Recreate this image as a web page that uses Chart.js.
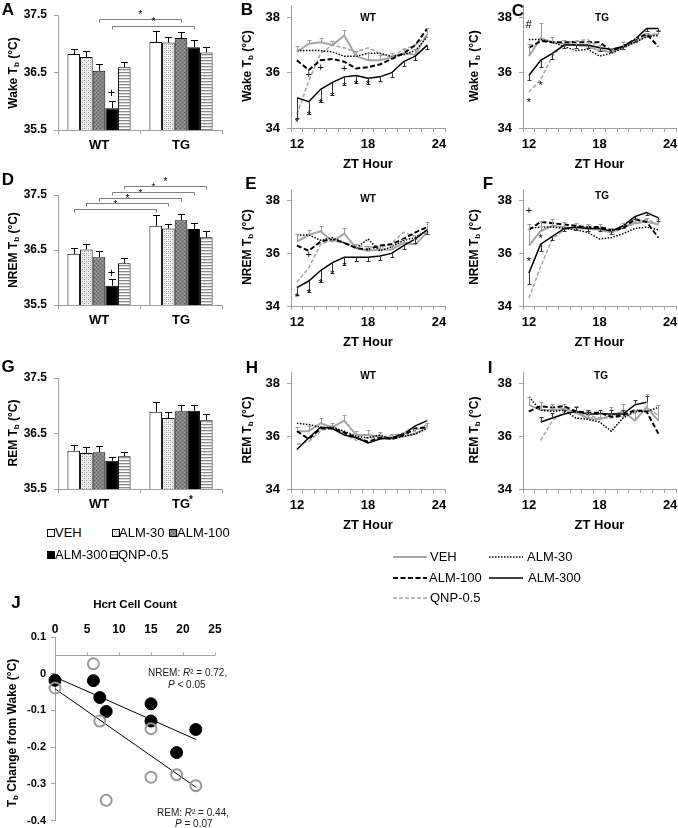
<!DOCTYPE html>
<html>
<head>
<meta charset="utf-8">
<script src="https://cdn.jsdelivr.net/npm/chart.js@4.4.0/dist/chart.umd.min.js"></script>
<style>
body { margin: 0; background: #fff; width: 678px; height: 828px; position: relative; overflow: hidden;
       font-family: "Liberation Sans", Arial, sans-serif; color: #000; }
canvas { position: absolute; }
.letter { position: absolute; font-weight: bold; font-size: 17px; line-height: 17px; transform: translate(-50%, -50%); }
.yt { position: absolute; font-weight: bold; font-size: 12px; white-space: nowrap; line-height: 14px;
      transform: translate(-50%, -50%) rotate(-90deg); }
.yt sub { font-size: 8px; vertical-align: -2px; }
.ptitle { position: absolute; font-weight: bold; font-size: 10px; transform: translate(-50%, -50%); }
.leg { position: absolute; font-size: 13px; line-height: 14px; white-space: nowrap; }
.note { position: absolute; font-size: 10px; line-height: 12px; white-space: nowrap; color: #222; }
</style>
</head>
<body>
<script>
// ---- data ----
const treatments = ['VEH', 'ALM-30', 'ALM-100', 'ALM-300', 'QNP-0.5'];
const genotypes = ['WT', 'TG'];
const barYTicks = [35.5, 36.5, 37.5];

// bar panels: one row per treatment, [WT, TG]
const wakeMeans = [[36.82, 37.03], [36.77, 37.02], [36.53, 37.10], [35.88, 36.94], [36.59, 36.85]];
const wakeErr   = [[0.09, 0.20], [0.10, 0.09], [0.11, 0.11], [0.12, 0.13], [0.10, 0.10]];
const nremMeans = [[36.43, 36.94], [36.51, 36.89], [36.37, 37.04], [35.85, 36.88], [36.26, 36.73]];
const nremErr   = [[0.10, 0.20], [0.10, 0.09], [0.11, 0.11], [0.12, 0.12], [0.09, 0.11]];
const remMeans  = [[36.19, 36.89], [36.15, 36.78], [36.16, 36.90], [36.01, 36.91], [36.09, 36.74]];
const remErr    = [[0.11, 0.17], [0.10, 0.11], [0.11, 0.11], [0.07, 0.10], [0.07, 0.12]];
// [treatment index, bracket height]
const wakeBrackets = [[2, 37.43], [3, 37.31]];
const nremBrackets = [[0, 37.24], [1, 37.35], [2, 37.45], [3, 37.56], [4, 37.67]];

// hourly panels
const ztHours = [12, 13, 14, 15, 16, 17, 18, 19, 20, 21, 22, 23];
const xTickLabels = [12, 18, 24];
const lineYTicks = [34, 36, 38];

const wakeWT = [
  [36.75, 37.05, 37.10, 37.00, 37.35, 36.60, 36.45, 36.45, 36.55, 36.70, 36.65, 37.40],
  [36.80, 36.80, 36.80, 36.75, 36.60, 36.60, 36.70, 36.70, 36.60, 36.65, 36.80, 37.30],
  [36.45, 36.10, 36.45, 36.50, 36.40, 36.15, 36.20, 36.30, 36.50, 36.70, 37.00, 37.60],
  [35.10, 34.95, 35.40, 35.65, 35.85, 35.90, 35.80, 35.85, 36.00, 36.40, 36.60, 37.00],
  [34.50, 35.70, 36.70, 37.00, 36.90, 36.75, 36.90, 36.70, 36.55, 36.85, 37.00, 37.35]
];
const wakeTG = [
  [36.60, 37.25, 37.10, 37.05, 37.00, 36.95, 36.80, 36.75, 36.90, 37.10, 37.35, 37.40],
  [37.20, 37.20, 37.10, 36.95, 36.80, 36.85, 36.60, 36.70, 36.90, 37.10, 37.30, 37.35],
  [36.90, 37.15, 37.10, 37.10, 37.10, 37.10, 37.10, 36.80, 36.95, 37.20, 37.40, 36.95],
  [35.90, 36.45, 36.70, 37.00, 37.00, 37.00, 36.90, 36.85, 36.95, 37.20, 37.60, 37.60],
  [35.30, 35.75, 36.60, 37.05, 37.15, 37.20, 36.90, 36.70, 37.00, 37.10, 37.30, 37.40]
];
const nremWT = [
  [36.45, 36.70, 36.85, 36.45, 36.75, 36.20, 36.10, 36.15, 36.15, 36.40, 36.35, 36.80],
  [36.70, 36.70, 36.50, 36.60, 36.40, 36.20, 36.55, 36.10, 36.25, 36.50, 36.60, 36.90],
  [36.30, 36.10, 36.45, 36.55, 36.40, 36.20, 36.15, 36.30, 36.35, 36.55, 36.80, 37.00],
  [34.70, 34.95, 35.35, 35.65, 35.85, 35.85, 35.85, 35.90, 36.00, 36.30, 36.55, 36.90],
  [34.90, 35.45, 36.35, 36.50, 36.40, 36.30, 36.25, 36.20, 36.40, 36.80, 36.65, 36.80]
];
const nremTG = [
  [36.30, 36.85, 37.05, 37.00, 36.95, 36.95, 36.90, 36.80, 37.00, 37.15, 37.20, 37.10],
  [36.95, 37.00, 37.00, 36.95, 36.90, 36.80, 36.55, 36.60, 36.75, 36.95, 37.00, 36.90],
  [36.90, 37.20, 37.15, 37.10, 37.05, 37.00, 37.00, 36.90, 36.95, 37.30, 37.20, 36.60],
  [35.25, 36.35, 36.65, 36.95, 37.00, 36.95, 36.95, 36.85, 37.05, 37.40, 37.55, 37.35],
  [34.30, 35.50, 36.55, 36.90, 37.00, 37.00, 36.95, 36.80, 36.95, 37.20, 37.30, 37.10]
];
const remWT = [
  [36.20, 36.20, 36.50, 36.35, 36.60, 36.05, 36.05, 36.00, 35.95, 36.00, 36.10, 36.35],
  [36.50, 36.45, 36.35, 36.35, 36.20, 36.00, 35.95, 36.05, 35.90, 36.00, 36.10, 36.30],
  [36.20, 35.90, 36.30, 36.30, 36.15, 35.95, 35.80, 35.95, 35.90, 36.05, 36.30, 36.35],
  [35.50, 35.95, 36.35, 36.30, 36.05, 35.95, 35.75, 35.90, 35.95, 36.10, 36.40, 36.60],
  [35.70, 35.80, 36.20, 36.40, 36.10, 35.85, 35.95, 35.95, 36.05, 36.10, 36.20, 36.45]
];
const remTG = [
  [37.20, 37.00, 37.00, 37.05, 36.90, 36.70, 36.65, 36.80, 36.95, 36.60, 37.10, 36.60],
  [37.50, 37.00, 36.95, 37.00, 36.70, 36.65, 36.55, 36.20, 36.70, 36.95, 36.95, 37.10],
  [36.95, 37.15, 37.10, 37.15, 36.95, 36.90, 36.90, 36.75, 36.80, 37.00, 36.95, 36.10],
  [null, 36.55, 36.70, 36.85, 36.95, 36.85, 36.85, 36.85, 36.85, 37.20, 37.30, null],
  [null, 35.85, 36.60, 36.95, 36.90, 36.80, 36.70, 36.70, 36.75, 36.90, 37.10, 36.80]
];

// hourly error bars: [treatment index, direction, sizes]
const wakeWTErr = [
  [0, 1, [0.20, 0.15, 0.15, 0.15, 0.20, 0.20, 0.25, 0.20, 0.15, 0.15, 0.20, 0.20]],
  [3, -1, [0.75, 0.45, 0.45, 0.45, 0.30, 0.28, 0.20, 0.15, 0.15, 0.15, 0.15, 0.15]]
];
const wakeTGErr = [
  [0, 1, [0.45, 0.55, 0.20, 0.15, 0.15, 0.15, 0.20, 0.15, 0.20, 0.15, 0.10, 0.15]],
  [3, -1, [0.15, 0.25, 0.20, 0.10, 0.10, 0.10, 0.10, 0.10, 0.10, 0.10, 0.10, 0.10]]
];
const nremWTErr = [
  [0, 1, [0.30, 0.20, 0.20, 0.15, 0.20, 0.15, 0.20, 0.15, 0.15, 0.15, 0.20, 0.40]],
  [3, -1, [0.30, 0.40, 0.45, 0.40, 0.30, 0.15, 0.15, 0.15, 0.15, 0.15, 0.15, 0.15]]
];
const nremTGErr = [
  [0, 1, [0.80, 0.40, 0.25, 0.20, 0.20, 0.15, 0.20, 0.15, 0.15, 0.20, 0.15, 0.20]],
  [3, -1, [0.40, 0.25, 0.15, 0.10, 0.10, 0.10, 0.10, 0.10, 0.10, 0.10, 0.10, 0.10]]
];
const remWTErr = [
  [0, 1, [0.15, 0.20, 0.20, 0.15, 0.20, 0.15, 0.20, 0.15, 0.15, 0.15, 0.20, 0.15]]
];
const remTGErr = [
  [0, 1, [0.30, 0.30, 0.25, 0.20, 0.25, 0.20, 0.20, 0.30, 0.30, 0.40, 0.50, 0.60]],
  [3, 1, [null, 0.20, 0.20, 0.15, 0.15, 0.15, 0.15, 0.15, 0.15, 0.20, 0.25, null]]
];

// [symbol, hour, temperature]
const wakeWTMarks = [['*', 12, 34.18], ['*', 13, 34.44], ['*', 14, 34.88], ['*', 15, 35.12], ['*', 16, 35.48],
  ['*', 17, 35.56], ['*', 18, 35.56], ['+', 13, 35.92], ['+', 14, 36.16], ['+', 16, 36.13]];
const wakeTGMarks = [['#', 12, 37.72], ['*', 12, 34.92], ['*', 13, 35.53]];
const nremWTMarks = [['*', 12, 34.3], ['*', 13, 34.45], ['*', 14, 34.83], ['*', 15, 35.17], ['*', 16, 35.49], ['+', 13, 35.94]];
const nremTGMarks = [['+', 12, 37.62], ['*', 12, 35.68], ['*', 13, 36.55]];

// panel J
const hcrtCells  = [0, 6, 7, 8, 15, 15, 19, 22];
const nremChange = [-0.018, -0.019, -0.065, -0.103, -0.082, -0.129, -0.215, -0.152];
const remChange  = [-0.039, 0.027, -0.129, -0.345, -0.150, -0.282, -0.275, -0.305];
const fitCells   = [0, 22];
const nremFit    = [-0.009, -0.179];
const remFit     = [-0.041, -0.309];
const changeTicks = [-0.4, -0.3, -0.2, -0.1, 0, 0.1];

// ---- setup ----
Chart.defaults.font.family = '"Liberation Sans", Arial, sans-serif';
Chart.defaults.color = '#000';
Chart.defaults.animation = false;
Chart.defaults.plugins.legend.display = false;
Chart.defaults.plugins.tooltip.enabled = false;

const axisGray = '#a0a0a0';
const lineStyles = [
  { color: '#a6a6a6', width: 2, dash: [], order: 3 },
  { color: '#000', width: 1.5, dash: [1.5, 1.5], order: 2 },
  { color: '#000', width: 2, dash: [5, 2.5], order: 1 },
  { color: '#000', width: 1.5, dash: [], order: 0 },
  { color: '#a6a6a6', width: 1.5, dash: [4, 2], order: 4 }
];

function makeFill(kind) {
  if (kind === 'white') return '#ffffff';
  if (kind === 'black') return '#000000';
  const p = document.createElement('canvas');
  const g = p.getContext('2d');
  if (kind === 'lightdots') {
    p.width = p.height = 4;
    g.fillStyle = '#f0f0f0'; g.fillRect(0, 0, 4, 4);
    g.fillStyle = '#9a9a9a'; g.fillRect(0, 0, 1, 1); g.fillRect(2, 2, 1, 1);
    g.fillStyle = '#c8c8c8'; g.fillRect(2, 0, 1, 1); g.fillRect(0, 2, 1, 1);
  } else if (kind === 'darkdots') {
    p.width = p.height = 4;
    g.fillStyle = '#858585'; g.fillRect(0, 0, 4, 4);
    g.fillStyle = '#555'; g.fillRect(0, 0, 1, 1); g.fillRect(2, 2, 1, 1);
    g.fillStyle = '#a0a0a0'; g.fillRect(2, 0, 1, 1); g.fillRect(0, 2, 1, 1);
  } else {
    p.width = 3; p.height = 3;
    g.fillStyle = '#ffffff'; g.fillRect(0, 0, 3, 3);
    g.fillStyle = '#8a8a8a'; g.fillRect(0, 0, 3, 1);
    g.fillStyle = '#dcdcdc'; g.fillRect(0, 1, 3, 1);
  }
  return g.createPattern(p, 'repeat');
}
const barFills = ['white', 'lightdots', 'darkdots', 'black', 'stripes'].map(makeFill);

function makeCanvas(left, top, w, h) {
  const c = document.createElement('canvas');
  c.width = w; c.height = h;
  c.style.left = left + 'px'; c.style.top = top + 'px';
  c.style.width = w + 'px'; c.style.height = h + 'px';
  document.body.appendChild(c);
  return c;
}

function addDiv(cls, html, left, top) {
  const d = document.createElement('div');
  d.className = cls;
  d.innerHTML = html;
  d.style.left = left + 'px';
  d.style.top = top + 'px';
  document.body.appendChild(d);
  return d;
}

// error bars and stars / plus / hash on the hourly panels
const marksPlugin = {
  id: 'marks',
  afterDatasetsDraw(chart, args, opts) {
    const ctx = chart.ctx, xs = chart.scales.x, ys = chart.scales.y;
    ctx.save();
    ctx.lineWidth = 1;
    (opts.errors || []).forEach(e => {
      const ds = chart.data.datasets[e[0]];
      ctx.strokeStyle = ds.borderColor === '#000' ? '#333' : '#9a9a9a';
      ds.data.forEach((pt, k) => {
        const size = e[2][k];
        if (pt.y === null || size === null) return;
        const x = Math.round(xs.getPixelForValue(pt.x)) + 0.5;
        const y0 = ys.getPixelForValue(pt.y);
        const y1 = Math.round(ys.getPixelForValue(pt.y + e[1] * size)) + 0.5;
        ctx.beginPath();
        ctx.moveTo(x, y0); ctx.lineTo(x, y1);
        ctx.moveTo(x - 2, y1); ctx.lineTo(x + 2, y1);
        ctx.stroke();
      });
    });
    ctx.fillStyle = '#000';
    ctx.font = '11px "Liberation Sans", Arial, sans-serif';
    ctx.textAlign = 'center';
    ctx.textBaseline = 'middle';
    (opts.items || []).forEach(m => ctx.fillText(m[0], xs.getPixelForValue(m[1]), ys.getPixelForValue(m[2])));
    ctx.restore();
  }
};

// error bars, brackets and plus signs on the bar panels
const barMarks = {
  id: 'barMarks',
  afterDatasetsDraw(chart, args, opts) {
    const ctx = chart.ctx, ys = chart.scales.y;
    ctx.save();
    ctx.lineWidth = 1;
    ctx.strokeStyle = '#000';
    opts.errors.forEach((errs, i) => {
      const meta = chart.getDatasetMeta(i);
      meta.data.forEach((bar, j) => {
        const v = chart.data.datasets[i].data[j];
        const x = Math.round(bar.x) + 0.5;
        const yTop = Math.round(ys.getPixelForValue(v + errs[j])) + 0.5;
        ctx.beginPath();
        ctx.moveTo(x, bar.y);
        ctx.lineTo(x, yTop);
        ctx.moveTo(x - 3.5, yTop);
        ctx.lineTo(x + 3.5, yTop);
        ctx.stroke();
      });
    });
    ctx.strokeStyle = '#7f7f7f';
    ctx.fillStyle = '#000';
    ctx.textAlign = 'center';
    ctx.textBaseline = 'middle';
    ctx.font = '10px "Liberation Sans", Arial, sans-serif';
    (opts.brackets || []).forEach(b => {
      const meta = chart.getDatasetMeta(b[0]);
      const x1 = Math.round(meta.data[0].x) + 0.5, x2 = Math.round(meta.data[1].x) + 0.5;
      const y = Math.round(ys.getPixelForValue(b[1])) + 0.5;
      ctx.beginPath();
      ctx.moveTo(x1, y + 3); ctx.lineTo(x1, y); ctx.lineTo(x2, y); ctx.lineTo(x2, y + 3);
      ctx.stroke();
      ctx.fillText('*', (x1 + x2) / 2, y - 4);
    });
    ctx.font = '13px "Liberation Sans", Arial, sans-serif';
    (opts.plus || []).forEach(p => {
      const bar = chart.getDatasetMeta(p[0]).data[p[1]];
      ctx.fillText('+', bar.x, ys.getPixelForValue(p[2]));
    });
    ctx.restore();
  }
};

function barPanel(top, h, padTop, means, errs, brackets, plus) {
  const canvas = makeCanvas(0, top, 225, h);
  return new Chart(canvas, {
    type: 'bar',
    data: {
      labels: genotypes,
      datasets: means.map((vals, i) => ({
        label: treatments[i],
        data: vals,
        backgroundColor: barFills[i],
        borderColor: '#000',
        borderWidth: 1,
        barPercentage: 1,
        categoryPercentage: 0.77
      }))
    },
    options: {
      responsive: false,
      devicePixelRatio: 1,
      layout: { padding: { top: padTop, right: 3, left: 0, bottom: 0 } },
      scales: {
        x: {
          afterFit: s => { s.height = 30; s.paddingLeft = 0; s.paddingRight = 0; },
          ticks: { padding: 4, font: { size: 13, weight: 'bold' } },
          grid: { drawOnChartArea: false, tickLength: 4, color: axisGray },
          border: { color: axisGray }
        },
        y: {
          min: 35.5, max: 37.5,
          afterBuildTicks: s => { s.ticks = barYTicks.map(v => ({ value: v })); },
          afterFit: s => { s.width = 58; s.paddingTop = 0; s.paddingBottom = 0; },
          ticks: { padding: 7, font: { size: 12, weight: 'bold' }, callback: v => v.toFixed(1) },
          grid: { drawOnChartArea: false, tickLength: 4, color: axisGray },
          border: { color: axisGray }
        }
      },
      plugins: { barMarks: { errors: errs, brackets: brackets, plus: plus } }
    },
    plugins: [barMarks]
  });
}

function linePanel(left, top, w, h, padTop, yWidth, padRight, series, errors, marks) {
  const canvas = makeCanvas(left, top, w, h);
  return new Chart(canvas, {
    type: 'line',
    data: {
      datasets: series.map((vals, i) => ({
        label: treatments[i],
        data: ztHours.map((hr, k) => ({ x: hr, y: vals[k] })),
        borderColor: lineStyles[i].color,
        borderWidth: lineStyles[i].width,
        borderDash: lineStyles[i].dash,
        order: lineStyles[i].order,
        pointRadius: 0,
        tension: 0,
        fill: false
      }))
    },
    options: {
      responsive: false,
      devicePixelRatio: 1,
      layout: { padding: { top: padTop, right: padRight, left: 0, bottom: 0 } },
      scales: {
        x: {
          type: 'linear', min: 11.5, max: 24.5,
          afterBuildTicks: s => {
            const t = [];
            for (let v = 11.5; v <= 24.5; v += 0.5) t.push({ value: v });
            s.ticks = t;
          },
          afterFit: s => { s.height = 47; s.paddingLeft = 0; s.paddingRight = 0; },
          ticks: {
            autoSkip: false, maxRotation: 0, padding: 5,
            font: { size: 13, weight: 'bold' },
            callback: v => xTickLabels.includes(v) ? String(v) : ''
          },
          grid: {
            drawOnChartArea: false, tickLength: 4,
            color: c => (c.tick && c.tick.value % 1 !== 0) ? axisGray : 'rgba(0,0,0,0)'
          },
          border: { color: axisGray },
          title: { display: true, text: 'ZT Hour', font: { size: 13, weight: 'bold' }, padding: { top: 0, bottom: 3 } }
        },
        y: {
          min: 34, max: 38.45,
          afterBuildTicks: s => { s.ticks = lineYTicks.map(v => ({ value: v })); },
          afterFit: s => { s.width = yWidth; s.paddingTop = 0; s.paddingBottom = 0; },
          ticks: { padding: 7, font: { size: 13, weight: 'bold' } },
          grid: { drawOnChartArea: false, tickLength: 4, color: axisGray },
          border: { color: axisGray }
        }
      },
      plugins: { marks: { items: marks, errors: errors } }
    },
    plugins: [marksPlugin]
  });
}

// bar panels A, D, G
barPanel(0, 160, 15, wakeMeans, wakeErr, wakeBrackets, [[3, 0, 36.14]]);
barPanel(175, 160, 20, nremMeans, nremErr, nremBrackets, [[3, 0, 36.08]]);
barPanel(358, 161, 20, remMeans, remErr, [], []);

// hourly panels B, C, E, F, H, I
linePanel(222, 0, 226, 175, 5, 69, 3, wakeWT, wakeWTErr, wakeWTMarks);
linePanel(455, 0, 223, 175, 5, 68, 2, wakeTG, wakeTGErr, wakeTGMarks);
linePanel(222, 175, 226, 178, 14, 69, 3, nremWT, nremWTErr, nremWTMarks);
linePanel(455, 175, 223, 178, 14, 68, 2, nremTG, nremTGErr, nremTGMarks);
linePanel(222, 358, 226, 178, 14, 69, 3, remWT, remWTErr, []);
linePanel(455, 358, 223, 178, 14, 68, 2, remTG, remTGErr, []);

// panel J
const crossAxis = {
  id: 'crossAxis',
  beforeDatasetsDraw(chart, args, opts) {
    const ctx = chart.ctx, xs = chart.scales.x, ys = chart.scales.y;
    const y = Math.round(ys.getPixelForValue(opts.at)) + 0.5;
    ctx.save();
    ctx.strokeStyle = axisGray;
    ctx.lineWidth = 1;
    ctx.beginPath();
    ctx.moveTo(xs.getPixelForValue(xs.min), y);
    ctx.lineTo(xs.getPixelForValue(xs.max), y);
    xs.ticks.forEach(t => {
      const x = Math.round(xs.getPixelForValue(t.value)) + 0.5;
      ctx.moveTo(x, y);
      ctx.lineTo(x, y - 3);
    });
    ctx.stroke();
    ctx.restore();
  }
};

new Chart(makeCanvas(0, 590, 240, 238), {
  type: 'scatter',
  data: {
    datasets: [
      { label: 'REM', data: hcrtCells.map((c, i) => ({ x: c, y: remChange[i] })), order: 0,
        pointRadius: 5.5, pointBackgroundColor: 'rgba(0,0,0,0)', pointBorderColor: '#9a9a9a', pointBorderWidth: 2, clip: false },
      { label: 'NREM', data: hcrtCells.map((c, i) => ({ x: c, y: nremChange[i] })), order: 1,
        pointRadius: 6, pointBackgroundColor: '#000', pointBorderColor: '#000', clip: false },
      { type: 'line', label: 'NREM fit', data: fitCells.map((c, i) => ({ x: c, y: nremFit[i] })), order: 2,
        borderColor: '#000', borderWidth: 1, pointRadius: 0 },
      { type: 'line', label: 'REM fit', data: fitCells.map((c, i) => ({ x: c, y: remFit[i] })), order: 3,
        borderColor: '#000', borderWidth: 1, pointRadius: 0 }
    ]
  },
  options: {
    responsive: false,
    devicePixelRatio: 1,
    layout: { padding: { top: 0, right: 25, left: 0, bottom: 7 } },
    scales: {
      x: {
        type: 'linear', position: 'top', min: 0, max: 25,
        afterFit: s => { s.height = 47; s.paddingLeft = 0; s.paddingRight = 0; },
        ticks: { stepSize: 5, padding: -8, font: { size: 12, weight: 'bold' } },
        grid: { display: false },
        border: { display: false },
        title: { display: true, text: 'Hcrt Cell Count', font: { size: 11.5, weight: 'bold' }, padding: { top: 8, bottom: 0 } }
      },
      y: {
        min: -0.4, max: 0.1,
        afterBuildTicks: s => { s.ticks = changeTicks.map(v => ({ value: v })); },
        afterFit: s => { s.width = 55; s.paddingTop = 0; s.paddingBottom = 0; },
        ticks: { padding: 5, font: { size: 11, weight: 'bold' }, callback: v => v === 0 ? '0' : v.toFixed(1) },
        grid: { drawOnChartArea: false, tickLength: 4, color: axisGray },
        border: { color: axisGray }
      }
    },
    plugins: { crossAxis: { at: 0.05 } }
  },
  plugins: [crossAxis]
});

// ---- text and legends ----
[['A', 8, 9], ['B', 247, 9], ['C', 518, 10], ['D', 8, 179], ['E', 251, 183], ['F', 488, 183],
 ['G', 8, 366], ['H', 252, 367], ['I', 490, 367], ['J', 16, 602]].forEach(l => addDiv('letter', l[0], l[1], l[2]));

[['Wake T<sub>b</sub> (°C)', 15, 73], ['NREM T<sub>b</sub> (°C)', 15, 250], ['REM T<sub>b</sub> (°C)', 15, 433],
 ['Wake T<sub>b</sub> (°C)', 249, 66], ['NREM T<sub>b</sub> (°C)', 249, 247], ['REM T<sub>b</sub> (°C)', 249, 430],
 ['Wake T<sub>b</sub> (°C)', 476, 66], ['NREM T<sub>b</sub> (°C)', 476, 247], ['REM T<sub>b</sub> (°C)', 476, 430],
 ['T<sub>b</sub> Change from Wake (°C)', 14, 733]].forEach(t => addDiv('yt', t[0], t[1], t[2]));

[['WT', 368, 17], ['TG', 602, 17], ['WT', 368, 198], ['TG', 602, 195], ['WT', 368, 375], ['TG', 601, 375]]
  .forEach(t => addDiv('ptitle', t[0], t[1], t[2]));
addDiv('ptitle', '*', 191, 499);

// bar legend
[[0, 47, 533, 55], [1, 112, 533, 119], [2, 169, 533, 177], [3, 47, 555, 55], [4, 110, 555, 118]].forEach(item => {
  const sw = makeCanvas(item[1], item[2] - 4, 8, 8);
  const g = sw.getContext('2d');
  g.fillStyle = barFills[item[0]];
  g.fillRect(0, 0, 8, 8);
  g.strokeStyle = '#000';
  g.strokeRect(0.5, 0.5, 7, 7);
  addDiv('leg', treatments[item[0]], item[3], item[2] - 7);
});

// line legend
[[0, 393, 557, 430], [1, 489, 557, 527], [2, 393, 578, 429], [3, 489, 578, 528], [4, 393, 598, 430]].forEach(item => {
  const st = lineStyles[item[0]];
  const c = makeCanvas(item[1], item[2] - 3, 34, 6);
  const g = c.getContext('2d');
  g.strokeStyle = st.color;
  g.lineWidth = st.width;
  g.setLineDash(st.dash);
  g.beginPath();
  g.moveTo(0, 3);
  g.lineTo(34, 3);
  g.stroke();
  addDiv('leg', treatments[item[0]], item[3], item[2] - 7);
});

// regression notes
addDiv('note', 'NREM: <i>R</i>² = 0.72,', 148, 667);
addDiv('note', '<i>P</i> &lt; 0.05', 168, 679);
addDiv('note', 'REM: <i>R</i>² = 0.44,', 157, 807);
addDiv('note', '<i>P</i> = 0.07', 175, 818);
</script>
</body>
</html>
